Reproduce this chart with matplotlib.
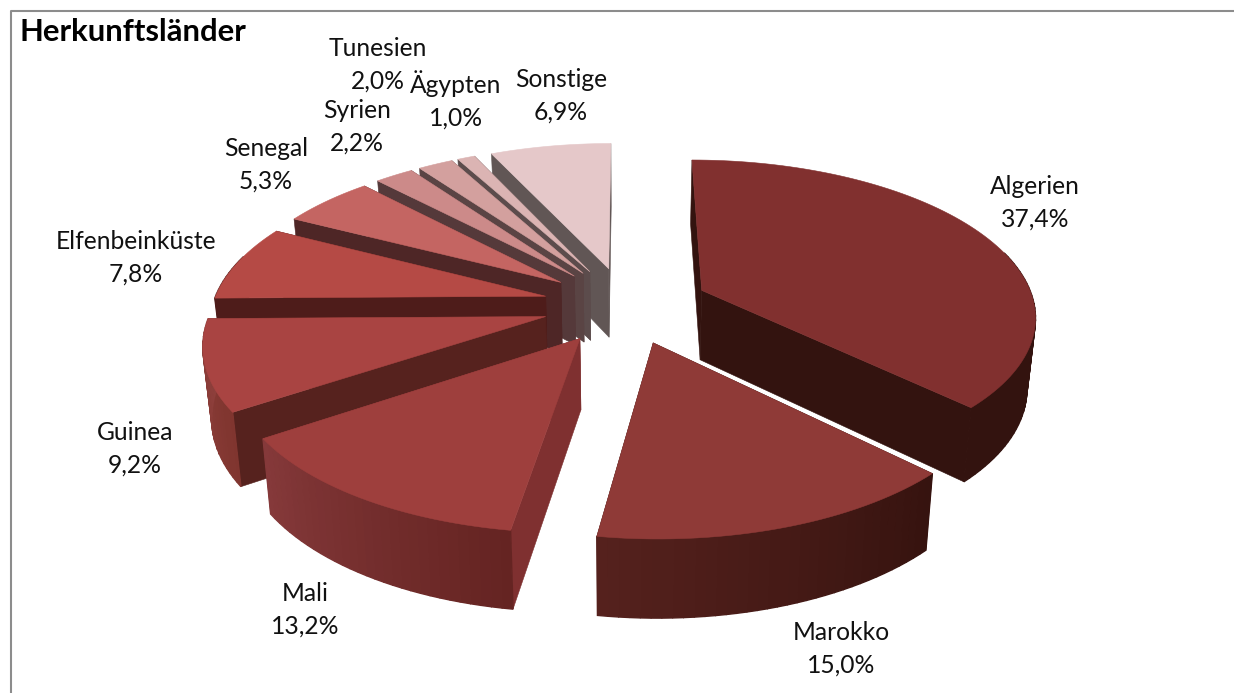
import numpy as np
import matplotlib
matplotlib.use("Agg")
import matplotlib.pyplot as plt

countries = ["Algerien", "Marokko", "Mali", "Guinea", "Elfenbeinküste",
             "Senegal", "Syrien", "Tunesien", "Ägypten", "Sonstige"]
shares = [37.4, 15.0, 13.2, 9.2, 7.8, 5.3, 2.2, 2.0, 1.0, 6.9]

top_colors = ["#81302f", "#8f3a37", "#9e3f3d", "#a94442", "#b54a45",
              "#c46562", "#cc8a89", "#d3a09e", "#dbb4b3", "#e5c8c9"]
cut_colors = ["#33130f", "#36130f", "#7f3030", "#56221e", "#4e1c1a",
              "#4e2626", "#55393a", "#5a4444", "#5c4c4c", "#615655"]
wall_start_colors = ["#33130f", "#36130f", "#652422", "#80352f", "#4e1c1a",
                     "#4e2626", "#55393a", "#5a4444", "#5c4c4c", "#615655"]
wall_end_colors = ["#33130f", "#55211d", "#85393a", "#8e3f3c", "#4e1c1a",
                   "#4e2626", "#55393a", "#5a4444", "#5c4c4c", "#615655"]

# label centres in pixels
label_x = [1035, 841, 305, 135, 136, 266, 357, 378, 456, 561]
label_y = [202.5, 649, 610, 449, 257.5, 165, 127, 65, 100, 96]

# projection of the tilted pie
CX, CY = 626, 305
A, B = 333, 154
K = 0.15
EXPLODE = 0.25
HEIGHT = 70
SHRINK = 0.021


def project(x, y, low=False):
    s = 1 / (1 + K * y)
    px = A * x * s
    py = CY - B * y * s
    if low:
        px = px * (1 - SHRINK)
        py = py + HEIGHT * s ** 0.6
    return CX + px, py


def mix(c1, c2, f):
    a = np.array(matplotlib.colors.to_rgb(c1))
    b = np.array(matplotlib.colors.to_rgb(c2))
    return tuple(a + (b - a) * f)


def face(ax, pts, color, zorder, lw=0.4):
    xs = [p[0] for p in pts]
    ys = [p[1] for p in pts]
    ax.fill(xs, ys, facecolor=color, edgecolor=color, linewidth=lw, zorder=zorder)


def drawSlice(ax, t0, t1, i, zorder):
    mid = (t0 + t1) / 2
    ox = EXPLODE * np.sin(mid)
    oy = EXPLODE * np.cos(mid)

    ts = np.linspace(t0, t1, max(6, int((t1 - t0) / np.radians(1.5))))
    rim = [(ox + np.sin(t), oy + np.cos(t)) for t in ts]

    # cut faces first, the end one before the start one, the top hides the rest
    for rx, ry in (rim[-1], rim[0]):
        face(ax, [project(ox, oy), project(rx, ry), project(rx, ry, True), project(ox, oy, True)],
             cut_colors[i], zorder)

    # outer wall in narrow bands for the shading, the back part is never seen
    for j in range(len(rim) - 1):
        if np.cos(ts[j]) > 0.25 and np.cos(ts[j + 1]) > 0.25:
            continue
        (x0, y0), (x1, y1) = rim[j], rim[j + 1]
        color = mix(wall_start_colors[i], wall_end_colors[i], j / (len(rim) - 2))
        face(ax, [project(x0, y0), project(x1, y1), project(x1, y1, True), project(x0, y0, True)],
             color, zorder, lw=1.0)

    top = [project(ox, oy)] + [project(x, y) for x, y in rim]
    face(ax, top, top_colors[i], zorder)


def main():
    plt.rcParams["font.family"] = ["Lato", "DejaVu Sans"]

    fig = plt.figure(figsize=(12.34, 6.93), dpi=100)
    ax = fig.add_axes([0, 0, 1, 1])
    ax.set_xlim(0, 1234)
    ax.set_ylim(693, 0)
    ax.axis("off")

    # chart frame, only top and left are in the crop
    ax.plot([11, 11, 1234], [693, 11, 11], color="#8c8c8c", linewidth=1.5, zorder=1)

    edges = np.radians(np.concatenate(([0], np.cumsum(shares))) * 3.6)

    # back slices first
    order = [9, 8, 7, 6, 5, 4, 3, 2, 0, 1]
    for z, i in enumerate(order):
        drawSlice(ax, edges[i], edges[i + 1], i, 2 + z)

    for i, name in enumerate(countries):
        value = f"{shares[i]:.1f}".replace(".", ",") + "%"
        ax.text(label_x[i], label_y[i], name + "\n" + value, ha="center", va="center",
                fontsize=17.7, color="#111111", linespacing=1.5, zorder=30)

    ax.text(20, 32, "Herkunftsländer", ha="left", va="center", fontsize=22.3,
            fontweight="bold", color="black", zorder=30)

    fig.savefig("out.png", dpi=100)


if __name__ == "__main__":
    main()
